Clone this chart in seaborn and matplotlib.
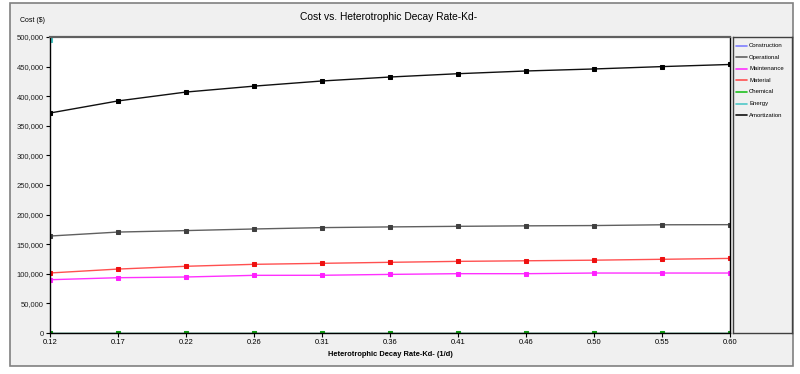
import matplotlib
matplotlib.use("Agg")
import matplotlib.pyplot as plt
from matplotlib.patches import Rectangle
from matplotlib.lines import Line2D
import seaborn as sns
import pandas as pd
import numpy as np

kd_labels = ["0.12", "0.17", "0.22", "0.26", "0.31", "0.36", "0.41", "0.46", "0.50", "0.55", "0.60"]
construction = [0, 0, 0, 0, 0, 0, 0, 0, 0, 0, 0]
operational = [163800, 170500, 173000, 175700, 178000, 179200, 180200, 181000, 181500, 182800, 183000]
maintenance = [90000, 93400, 94600, 97400, 97500, 99000, 100200, 100200, 101300, 101300, 101300]
material = [101400, 108000, 112700, 116000, 117700, 119400, 121000, 122000, 123000, 124500, 126000]
chemical = [0, 0, 0, 0, 0, 0, 0, 0, 0, 0, 0]
energy = [495000, 610000, 640000, 660000, 675000, 685000, 695000, 700000, 705000, 710000, 715000]
amortization = [371600, 392000, 407000, 417000, 425700, 432400, 438000, 442600, 446000, 450000, 453600]

series_names = ["Construction", "Operational", "Maintenance", "Material", "Chemical", "Energy", "Amortization"]
series_vals = [construction, operational, maintenance, material, chemical, energy, amortization]
line_colors = ["#7f7fff", "#606060", "#ff30ff", "#ff5050", "#20c020", "#50c8c8", "#101010"]
marker_colors = ["#4040ff", "#404040", "#ff20ff", "#ee1010", "#10a010", "#40c0c0", "#000000"]

rows = []
for name, vals in zip(series_names, series_vals):
    for i, v in enumerate(vals):
        rows.append({"pos": i, "cost": v, "series": name})
df = pd.DataFrame(rows)

sns.set_style("white")
plt.rcParams["font.family"] = ["Liberation Sans Narrow", "Liberation Sans", "DejaVu Sans"]

W, H = 800, 374
fig = plt.figure(figsize=(W / 100, H / 100), dpi=100)
fig.patch.set_facecolor("white")

# outer gray frame
frame = Rectangle((10 / W, 1 - 366 / H), (793 - 10) / W, (366 - 3) / H,
                  transform=fig.transFigure, facecolor="#f0f0f0",
                  edgecolor="#808080", linewidth=1.2, zorder=-5)
fig.patches.append(frame)

ax = fig.add_axes([50 / W, 1 - 333 / H, (730 - 50) / W, (333 - 37) / H])
ax.set_zorder(2)
ax.set_facecolor("white")

order = ["Construction", "Energy", "Amortization", "Operational", "Material", "Maintenance", "Chemical"]
for name in order:
    idx = series_names.index(name)
    sub = df[df["series"] == name]
    sns.lineplot(data=sub, x="pos", y="cost", ax=ax, color=line_colors[idx],
                 linewidth=1.0, marker="s", markersize=3.3,
                 markerfacecolor=marker_colors[idx], markeredgecolor=marker_colors[idx],
                 legend=False)

ax.set_xlim(0, len(kd_labels) - 1)
ax.set_ylim(0, 500000)
ax.set_xticks(range(len(kd_labels)))
ax.set_xticklabels(kd_labels)
yt = np.arange(0, 500001, 50000)
ax.set_yticks(yt)
ax.set_yticklabels([f"{int(v):,}" for v in yt])
ax.tick_params(axis="both", labelsize=5.5, length=3, width=0.8, direction="out",
               colors="#000000", pad=1.5, left=True, bottom=True)
ax.tick_params(axis="y", labelcolor="#202020")
ax.set_xlabel("")
ax.set_ylabel("")
for s in ["left", "bottom", "right"]:
    ax.spines[s].set_color("#000000")
    ax.spines[s].set_linewidth(1.0)
ax.spines["top"].set_color("#606060")
ax.spines["top"].set_linewidth(1.6)

fig.text(389 / W, 1 - 17 / H, "Cost vs. Heterotrophic Decay Rate-Kd-", ha="center", va="center",
         fontsize=7.4, color="#000000", zorder=5)
fig.text(20 / W, 1 - 21 / H, "Cost ($)", ha="left", va="center", fontsize=5, color="#000000", zorder=5)
fig.text(390 / W, 1 - 354 / H, "Heterotrophic Decay Rate-Kd- (1/d)", ha="center", va="center",
         fontsize=5.4, fontweight="bold", color="#000000", zorder=5)

# legend box
lax = fig.add_axes([733 / W, 1 - 333 / H, (792 - 733) / W, (333 - 37) / H])
lax.set_zorder(2)
lax.set_facecolor("#f0f0f0")
lax.set_xticks([])
lax.set_yticks([])
for s in lax.spines.values():
    s.set_color("#404040")
    s.set_linewidth(1.0)
lax.set_xlim(0, 59)
lax.set_ylim(296, 0)
for i, name in enumerate(series_names):
    yy = 8.5 + i * 11.6
    lax.add_line(Line2D([3, 14], [yy, yy], color=line_colors[i], linewidth=1.2))
    lax.text(16, yy, name, fontsize=4.3, va="center", ha="left", color="#000000")

fig.savefig("out.png", dpi=100)
